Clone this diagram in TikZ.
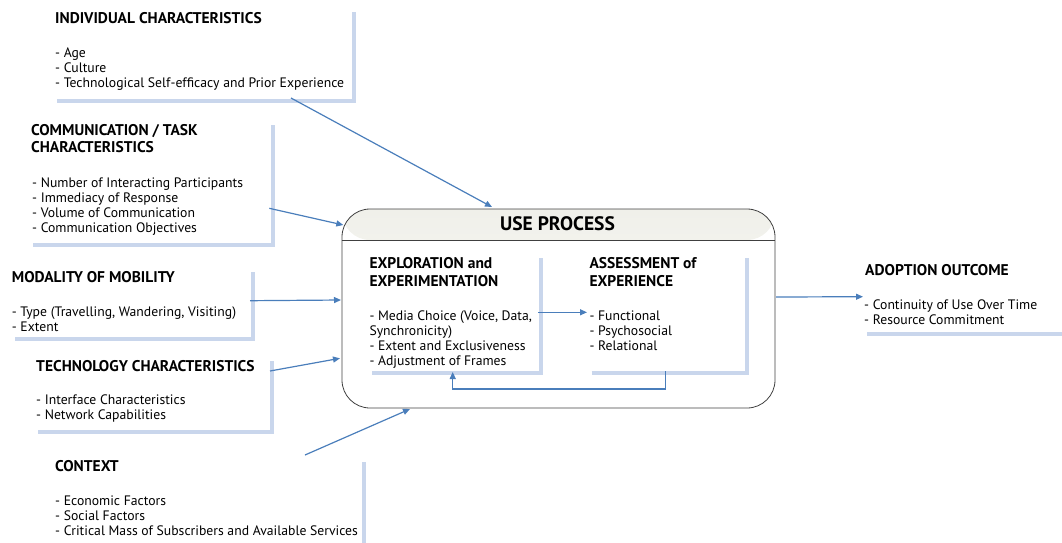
\documentclass[tikz,border=0pt]{standalone}
\usepackage{fontspec}
\setmainfont{PT Sans}
\usetikzlibrary{arrows.meta,positioning}
\definecolor{flowblue}{HTML}{4A7EBB}
\definecolor{rimblue}{HTML}{C9D6EC}
\definecolor{framegray}{HTML}{404040}
\definecolor{hdrtop}{HTML}{F0F0EA}
\definecolor{hdrbot}{HTML}{FCFCFA}
\tikzset{
  head/.style={anchor=base west,inner sep=0pt,align=left,font=\bfseries\fontsize{15.5}{17}\selectfont},
  subhead/.style={anchor=base west,inner sep=0pt,align=left,font=\bfseries\fontsize{15.5}{17.7}\selectfont},
  items/.style={anchor=base west,inner sep=0pt,align=left,font=\fontsize{13.7}{15}\selectfont},
  rimline/.style={draw=rimblue,line width=4pt},
  flowarr/.style={draw=flowblue,line width=1.2pt,-{Triangle[length=7pt,width=6pt]}}
}
\begin{document}
\begin{tikzpicture}[x=1pt,y=-1pt]
  \useasboundingbox (0,0) rectangle (1062,542);
  \node[head] (ind) at (55,23) {INDIVIDUAL CHARACTERISTICS};
  \node[items] (indl) at (55,87) {- Age\\- Culture\\- Technological Self-efficacy and Prior Experience};
  \draw[rimline] (57,101) -- (354,101) -- (354,12);
  \node[head] (com) at (31,152.7) {COMMUNICATION / TASK\\CHARACTERISTICS};
  \node[items] (coml) at (32,232.3) {- Number of Interacting Participants\\- Immediacy of Response\\- Volume of Communication\\- Communication Objectives};
  \draw[rimline] (33,245) -- (273,245) -- (273,125);
  \node[head] (mod) at (11.7,282.3) {MODALITY OF MOBILITY};
  \node[items] (modl) at (11.7,331.7) {- Type (Travelling, Wandering, Visiting)\\- Extent};
  \draw[rimline] (15,339) -- (253,339) -- (253,272);
  \node[head] (tec) at (36,371) {TECHNOLOGY CHARACTERISTICS};
  \node[items] (tecl) at (36,419.3) {- Interface Characteristics\\- Network Capabilities};
  \draw[rimline] (38,432) -- (272,432) -- (272,361);
  \node[head] (ctx) at (55,471.7) {CONTEXT};
  \node[items] (ctxl) at (55,535) {- Economic Factors\\- Social Factors\\- Critical Mass of Subscribers and Available Services};
  \draw[rimline] (364,462) -- (364,545);
  \node[head] (ado) at (865,275) {ADOPTION OUTCOME};
  \node[items] (adol) at (864,324.3) {- Continuity of Use Over Time\\- Resource Commitment};
  \draw[rimline] (867,334) -- (1065,334);
  \node[draw=framegray,line width=0.8pt,rounded corners=28pt,minimum width=433pt,minimum height=199pt,inner sep=0pt,
    path picture={\shade[top color=hdrtop,bottom color=hdrbot] (path picture bounding box.north west) rectangle ([yshift=-31pt]path picture bounding box.north east);}]
    (use) at (558.5,308.5) {};
  \draw[framegray,line width=0.8pt] (use.west |- 0,240) -- (use.east |- 0,240);
  \node[anchor=base,inner sep=0pt,font=\bfseries\fontsize{19.5}{22}\selectfont] (usep) at (557.5,230) {USE PROCESS};
  \node[subhead] (exp) at (369.3,286) {EXPLORATION and\\EXPERIMENTATION};
  \node[items] (expl) at (369.3,365.7) {- Media Choice (Voice, Data,\\Synchronicity)\\- Extent and Exclusiveness\\- Adjustment of Frames};
  \draw[rimline] (372,373.3) -- (540.7,373.3) -- (540.7,258.3);
  \node[subhead] (ass) at (589.3,286) {ASSESSMENT of\\EXPERIENCE};
  \node[items] (assl) at (589.3,350.7) {- Functional\\- Psychosocial\\- Relational};
  \draw[rimline] (591.7,373.3) -- (746.7,373.3) -- (746.7,258.3);
  \coordinate (ind_out) at (291,98);
  \coordinate (ind_in) at (492,207);
  \coordinate (com_out) at (269.3,208.3);
  \coordinate (com_in) at (343.3,225);
  \coordinate (mod_out) at (250,300.7);
  \coordinate (mod_in) at (341,300);
  \coordinate (tec_out) at (270,371);
  \coordinate (tec_in) at (340,358.3);
  \coordinate (ctx_out) at (305,455);
  \coordinate (ctx_in) at (410,409);
  \coordinate (exp_out) at (538.3,312.3);
  \coordinate (ass_in) at (587,312.3);
  \coordinate (ass_out) at (665.7,371);
  \coordinate (exp_in) at (452.7,372);
  \coordinate (use_out) at (776,297);
  \coordinate (ado_in) at (863,296.7);
  \draw[flowarr] (ind_out) -- (ind_in);
  \draw[flowarr] (com_out) -- (com_in);
  \draw[flowarr] (mod_out) -- (mod_in);
  \draw[flowarr] (tec_out) -- (tec_in);
  \draw[flowarr] (ctx_out) -- (ctx_in);
  \draw[flowarr] (exp_out) -- (ass_in);
  \draw[flowarr] (ass_out) -- ++(0,18) -| (exp_in);
  \draw[flowarr] (use_out) -- (ado_in);
\end{tikzpicture}
\end{document}
